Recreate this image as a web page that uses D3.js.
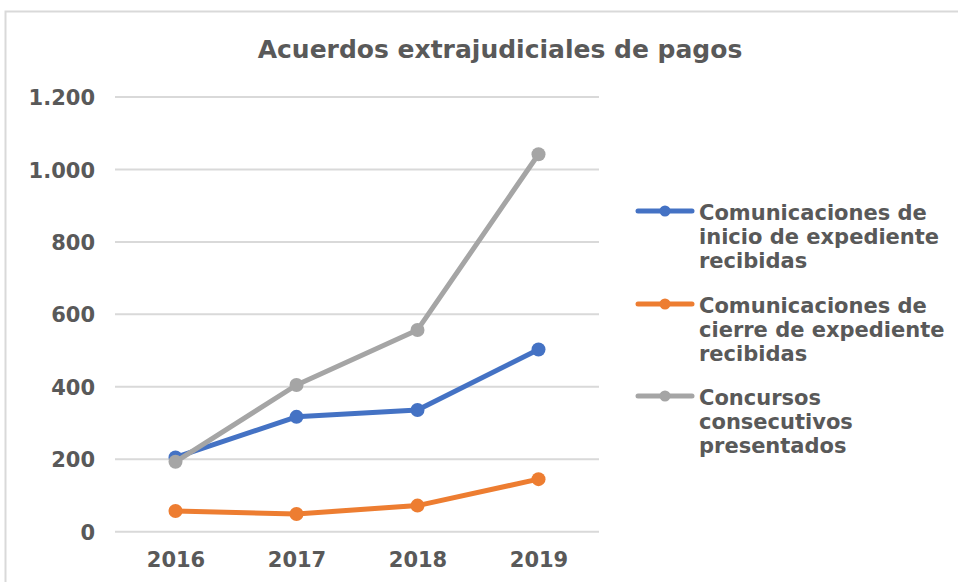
<!DOCTYPE html>
<html>
<head>
<meta charset="utf-8">
<script src="https://cdn.jsdelivr.net/npm/d3@7"></script>
<style>
html,body{margin:0;padding:0;background:#fff;}
svg{display:block;font-family:"DejaVu Sans",Verdana,sans-serif;}
</style>
</head>
<body>
<svg id="chart" width="958" height="582"></svg>
<script>
const title = "Acuerdos extrajudiciales de pagos";
const years = ["2016", "2017", "2018", "2019"];
const seriesNames = [
  ["Comunicaciones de", "inicio de expediente", "recibidas"],
  ["Comunicaciones de", "cierre de expediente", "recibidas"],
  ["Concursos", "consecutivos", "presentados"]
];
const inicio = [205, 317, 336, 503];
const cierre = [57, 49, 72, 145];
const concursos = [193, 405, 557, 1042];
const yTicks = [0, 200, 400, 600, 800, 1000, 1200];
const colors = ["#4472C4", "#ED7D31", "#A5A5A5"];

const series = [inicio, cierre, concursos];

const svg = d3.select("#chart");
const textColor = "#595959";

// outer frame
svg.append("rect")
  .attr("x", 5.5).attr("y", 11.5)
  .attr("width", 1000).attr("height", 1000)
  .attr("fill", "none").attr("stroke", "#d9d9d9").attr("stroke-width", 2);

const x = d3.scalePoint().domain(years).range([115, 599]).padding(0.5);
const y = d3.scaleLinear().domain([0, 1200]).range([531.7, 97]);

// gridlines
svg.append("g").selectAll("line").data(yTicks).join("line")
  .attr("x1", 115).attr("x2", 599)
  .attr("y1", d => y(d)).attr("y2", d => y(d))
  .attr("stroke", "#d9d9d9").attr("stroke-width", 2);

// y axis labels
const fmt = d => d3.format(",")(d).replace(/,/g, ".");
const yAxis = d3.axisLeft(y).tickValues(yTicks).tickFormat(fmt).tickSize(0).tickPadding(0);
const gy = svg.append("g").attr("transform", "translate(95,0)").call(yAxis);
gy.select(".domain").remove();
gy.selectAll("text")
  .attr("font-family", "DejaVu Sans, Verdana, sans-serif")
  .attr("font-size", 21).attr("font-weight", "bold").attr("fill", textColor)
  .attr("dy", "0.36em");

// x axis labels
const xAxis = d3.axisBottom(x).tickSize(0).tickPadding(0);
const gx = svg.append("g").attr("transform", "translate(0,551)").call(xAxis);
gx.select(".domain").remove();
gx.selectAll("text")
  .attr("font-family", "DejaVu Sans, Verdana, sans-serif")
  .attr("font-size", 21).attr("font-weight", "bold").attr("fill", textColor)
  .attr("dy", "0.76em").attr("y", 0);

// lines
const line = d3.line().x((d, i) => x(years[i])).y(d => y(d));
series.forEach((s, k) => {
  const g = svg.append("g");
  g.append("path").datum(s).attr("d", line)
    .attr("fill", "none").attr("stroke", colors[k]).attr("stroke-width", 5)
    .attr("stroke-linejoin", "round").attr("stroke-linecap", "round");
  g.selectAll("circle").data(s).join("circle")
    .attr("cx", (d, i) => x(years[i])).attr("cy", d => y(d))
    .attr("r", 7).attr("fill", colors[k]);
});

// title
svg.append("text")
  .attr("x", 500).attr("y", 58)
  .attr("text-anchor", "middle")
  .attr("font-size", 25).attr("font-weight", "bold").attr("fill", textColor)
  .text(title);

// legend
const legendBase = [220, 313, 405];
seriesNames.forEach((lines, k) => {
  const g = svg.append("g");
  const ly = legendBase[k] - 9;
  g.append("line").attr("x1", 638).attr("x2", 692).attr("y1", ly).attr("y2", ly)
    .attr("stroke", colors[k]).attr("stroke-width", 5).attr("stroke-linecap", "round");
  g.append("circle").attr("cx", 665).attr("cy", ly).attr("r", 5.5).attr("fill", colors[k]);
  const t = g.append("text").attr("x", 699).attr("y", legendBase[k])
    .attr("font-size", 21).attr("font-weight", "bold").attr("fill", textColor);
  lines.forEach((ln, j) => {
    t.append("tspan").attr("x", 699).attr("y", legendBase[k] + j * 24).text(ln);
  });
});
</script>
</body>
</html>
